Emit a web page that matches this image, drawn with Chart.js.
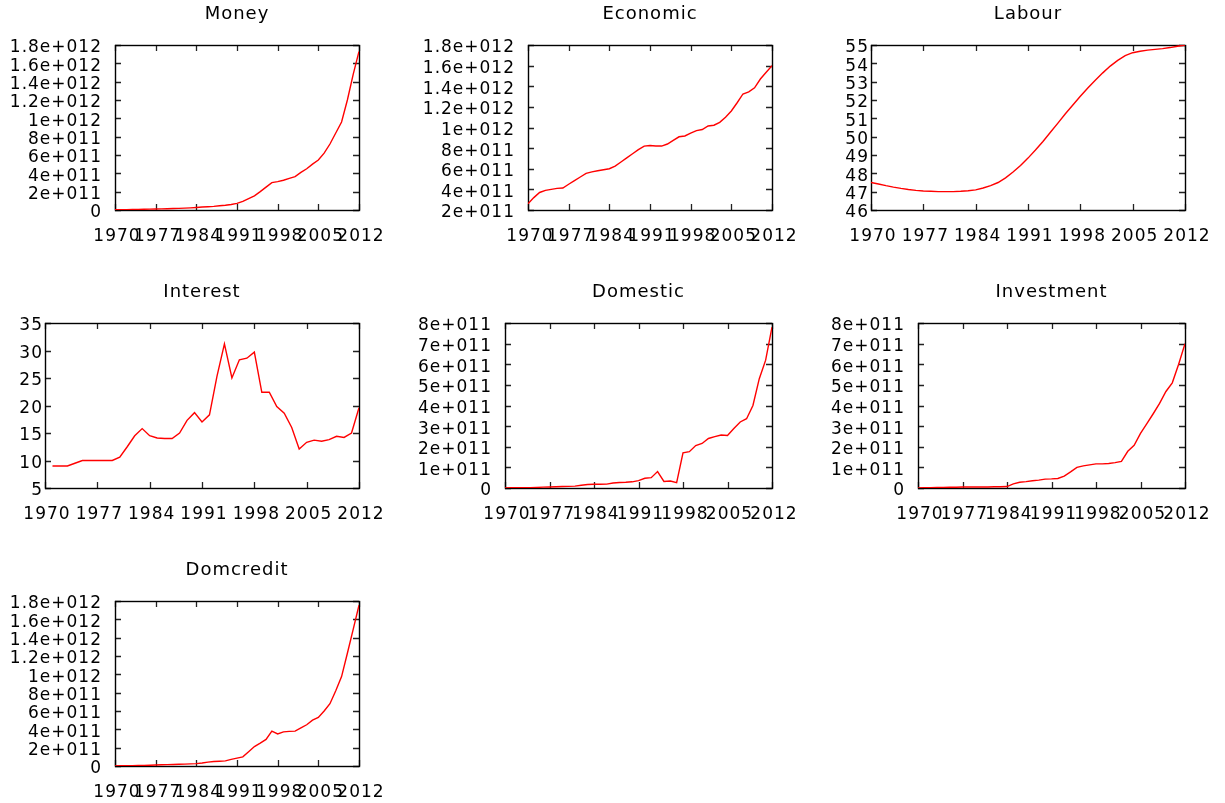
<!DOCTYPE html>
<html lang="en">
<head>
<meta charset="UTF-8">
<title>Money, output and credit 1970-2012</title>
<style>
  html, body { margin: 0; padding: 0; background: #fff; overflow: hidden; }
  #board { position: relative; width: 1225px; height: 803px; overflow: hidden; }
  #board canvas { position: absolute; }
</style>
<script src="https://cdn.jsdelivr.net/npm/chart.js@4"></script>
</head>
<body>
<div id="board"></div>
<script>
// yearly observations
const years = [1970, 1971, 1972, 1973, 1974, 1975, 1976, 1977, 1978, 1979,
               1980, 1981, 1982, 1983, 1984, 1985, 1986, 1987, 1988, 1989,
               1990, 1991, 1992, 1993, 1994, 1995, 1996, 1997, 1998, 1999,
               2000, 2001, 2002, 2003, 2004, 2005, 2006, 2007, 2008, 2009,
               2010, 2011, 2012];

// money-valued series are in billions
const money = [2, 3, 4, 5, 6, 8, 9, 11, 12, 14,
               16, 18, 20, 23, 27, 32, 36, 40, 46, 52,
               60, 72, 95, 125, 155, 200, 250, 298, 310, 325,
               345, 364, 410, 450, 500, 545, 620, 720, 840, 960,
               1200, 1480, 1730];
const economic = [260, 320, 370, 390, 400, 410, 413, 450, 485, 520,
                  555, 570, 580, 590, 600, 625, 665, 705, 745, 785,
                  820, 826, 820, 820, 840, 875, 910, 918, 945, 970,
                  980, 1015, 1022, 1050, 1100, 1160, 1240, 1325, 1345, 1385,
                  1470, 1535, 1600];
const labour = [47.5, 47.42, 47.33, 47.25, 47.18, 47.12, 47.07, 47.04, 47.02, 47.0,
                47.0, 47.0, 47.02, 47.05, 47.1, 47.2, 47.33, 47.5, 47.75, 48.07,
                48.43, 48.83, 49.27, 49.74, 50.24, 50.74, 51.25, 51.73, 52.2, 52.65,
                53.08, 53.48, 53.85, 54.16, 54.42, 54.58, 54.66, 54.72, 54.76, 54.8,
                54.86, 54.93, 55.0];
const interest = [null, 9.0, 9.0, 9.0, 9.5, 10.0, 10.0, 10.0, 10.0, 10.0,
                  10.6, 12.5, 14.5, 15.8, 14.5, 14.1, 14.0, 14.0, 15.0, 17.3,
                  18.7, 17.0, 18.3, 25.3, 31.2, 25.0, 28.3, 28.6, 29.7, 22.4,
                  22.4, 19.8, 18.6, 16.0, 12.1, 13.3, 13.7, 13.5, 13.8, 14.4,
                  14.2, 15.0, 19.6];
const domestic = [0, 1, 1, 2, 2, 3, 4, 5, 6, 7,
                  8, 9, 13, 17, 18, 18, 19, 24, 27, 28,
                  30, 36, 47, 50, 80, 32, 34, 26, 170, 176,
                  206, 216, 240, 249, 257, 255, 288, 320, 336, 400,
                  530, 620, 780];
const investment = [0, 1, 2, 3, 3, 4, 4, 5, 5, 5,
                    5, 5, 6, 6, 7, 20, 28, 31, 35, 38,
                    43, 44, 46, 58, 78, 100, 107, 112, 117, 117,
                    119, 123, 129, 178, 207, 265, 312, 360, 410, 468,
                    510, 600, 700];
const domcredit = [1, 2, 3, 4, 5, 6, 8, 11, 13, 15,
                   17, 19, 21, 23, 26, 33, 42, 49, 52, 56,
                   72, 86, 100, 155, 212, 250, 290, 380, 350, 372,
                   378, 380, 415, 450, 500, 530, 600, 680, 820, 975,
                   1230, 1490, 1755];

const BIL = 1e9;

// plot frames on the page: [left, top, right, bottom]
const panels = [
  { title: 'Money',      values: money,      unit: BIL, y: [0, 1.8e12, 2e11],   box: [115, 45, 359, 210],  gap: 13 },
  { title: 'Economic',   values: economic,   unit: BIL, y: [2e11, 1.8e12, 2e11], box: [528, 45, 772, 210], gap: 13 },
  { title: 'Labour',     values: labour,     unit: 1,   y: [46, 55, 1],         box: [871, 45, 1185, 210], gap: 2 },
  { title: 'Interest',   values: interest,   unit: 1,   y: [5, 35, 5],          box: [45, 323, 359, 488],  gap: 2 },
  { title: 'Domestic',   values: domestic,   unit: BIL, y: [0, 8e11, 1e11],     box: [505, 323, 772, 488], gap: 13 },
  { title: 'Investment', values: investment, unit: BIL, y: [0, 8e11, 1e11],     box: [918, 323, 1185, 488], gap: 13 },
  { title: 'Domcredit',  values: domcredit,  unit: BIL, y: [0, 1.8e12, 2e11],   box: [115, 601, 359, 766], gap: 13 }
];

const SIDE = 125;    // room for y labels, mirrored on the right so the title stays centred
const HEAD = 45;     // title band above the frame
const FOOT = 50;     // room for x labels
const TICK = 6;
const FONT = 'DejaVu Sans';

// gnuplot-like number format: 0, 47, 2e+011, 1.8e+012
function gnuNum(v) {
  if (Math.abs(v) < 1e6) return String(Math.round(v * 1000) / 1000);
  const e = Math.floor(Math.log10(v) + 1e-9);
  const m = parseFloat((v / Math.pow(10, e)).toFixed(3));
  return m + 'e+' + String(e).padStart(3, '0');
}

const spacing = {
  id: 'spacing',
  beforeUpdate(chart) { chart.ctx.letterSpacing = '1px'; },
  beforeDraw(chart) { chart.ctx.letterSpacing = '1px'; }
};

// closed border with inward ticks on all four sides
const frameTicks = {
  id: 'frameTicks',
  beforeDatasetsDraw(chart) {
    const { ctx, chartArea: a, scales } = chart;
    ctx.save();
    ctx.strokeStyle = '#222';
    ctx.lineWidth = 1.3;
    ctx.beginPath();
    scales.x.ticks.forEach(t => {
      const px = Math.round(scales.x.getPixelForValue(t.value)) + 0.5;
      ctx.moveTo(px, a.bottom); ctx.lineTo(px, a.bottom - TICK);
      ctx.moveTo(px, a.top); ctx.lineTo(px, a.top + TICK);
    });
    scales.y.ticks.forEach(t => {
      const py = Math.round(scales.y.getPixelForValue(t.value)) + 0.5;
      ctx.moveTo(a.left, py); ctx.lineTo(a.left + TICK, py);
      ctx.moveTo(a.right, py); ctx.lineTo(a.right - TICK, py);
    });
    ctx.stroke();
    ctx.strokeStyle = '#000';
    ctx.lineWidth = 1.4;
    ctx.strokeRect(a.left + 0.5, a.top + 0.5, a.right - a.left, a.bottom - a.top);
    ctx.restore();
  }
};

const board = document.getElementById('board');

panels.forEach(p => {
  const [l, t, r, b] = p.box;
  const cv = document.createElement('canvas');
  cv.width = (r - l) + 2 * SIDE;
  cv.height = HEAD + (b - t) + FOOT;
  cv.style.left = (l - SIDE) + 'px';
  cv.style.top = (t - HEAD) + 'px';
  board.appendChild(cv);

  const points = [];
  years.forEach((yr, i) => {
    if (p.values[i] !== null) points.push({ x: yr, y: p.values[i] * p.unit });
  });

  new Chart(cv, {
    type: 'line',
    data: {
      datasets: [{
        data: points,
        borderColor: '#ff0000',
        borderWidth: 1.4,
        pointRadius: 0,
        tension: 0,
        fill: false
      }]
    },
    options: {
      responsive: false,
      animation: false,
      events: [],
      layout: { padding: 0 },
      plugins: {
        legend: { display: false },
        tooltip: { enabled: false },
        title: {
          display: true,
          text: p.title,
          color: '#000',
          font: { family: FONT, size: 18, weight: 'normal' },
          padding: { top: 3.2, bottom: 20.2 }
        }
      },
      scales: {
        x: {
          type: 'linear',
          min: 1970,
          max: 2012,
          grid: { display: false, drawTicks: false },
          border: { display: false },
          ticks: {
            stepSize: 7,
            autoSkip: false,
            maxRotation: 0,
            color: '#000',
            font: { family: FONT, size: 17 },
            padding: 16,
            labelOffset: 2,
            callback: v => String(v)
          },
          afterFit(scale) { scale.height = FOOT; }
        },
        y: {
          min: p.y[0],
          max: p.y[1],
          grid: { display: false, drawTicks: false },
          border: { display: false },
          ticks: {
            stepSize: p.y[2],
            autoSkip: false,
            color: '#000',
            font: { family: FONT, size: 17 },
            padding: p.gap,
            labelOffset: 3,
            callback: v => gnuNum(v)
          },
          afterFit(scale) { scale.width = SIDE; }
        },
        // empty band on the right, same width as the label side
        pad: {
          type: 'linear',
          position: 'right',
          grid: { display: false, drawTicks: false },
          border: { display: false },
          ticks: { display: false },
          afterFit(scale) { scale.width = SIDE; }
        }
      }
    },
    plugins: [spacing, frameTicks]
  });
});
</script>
</body>
</html>
